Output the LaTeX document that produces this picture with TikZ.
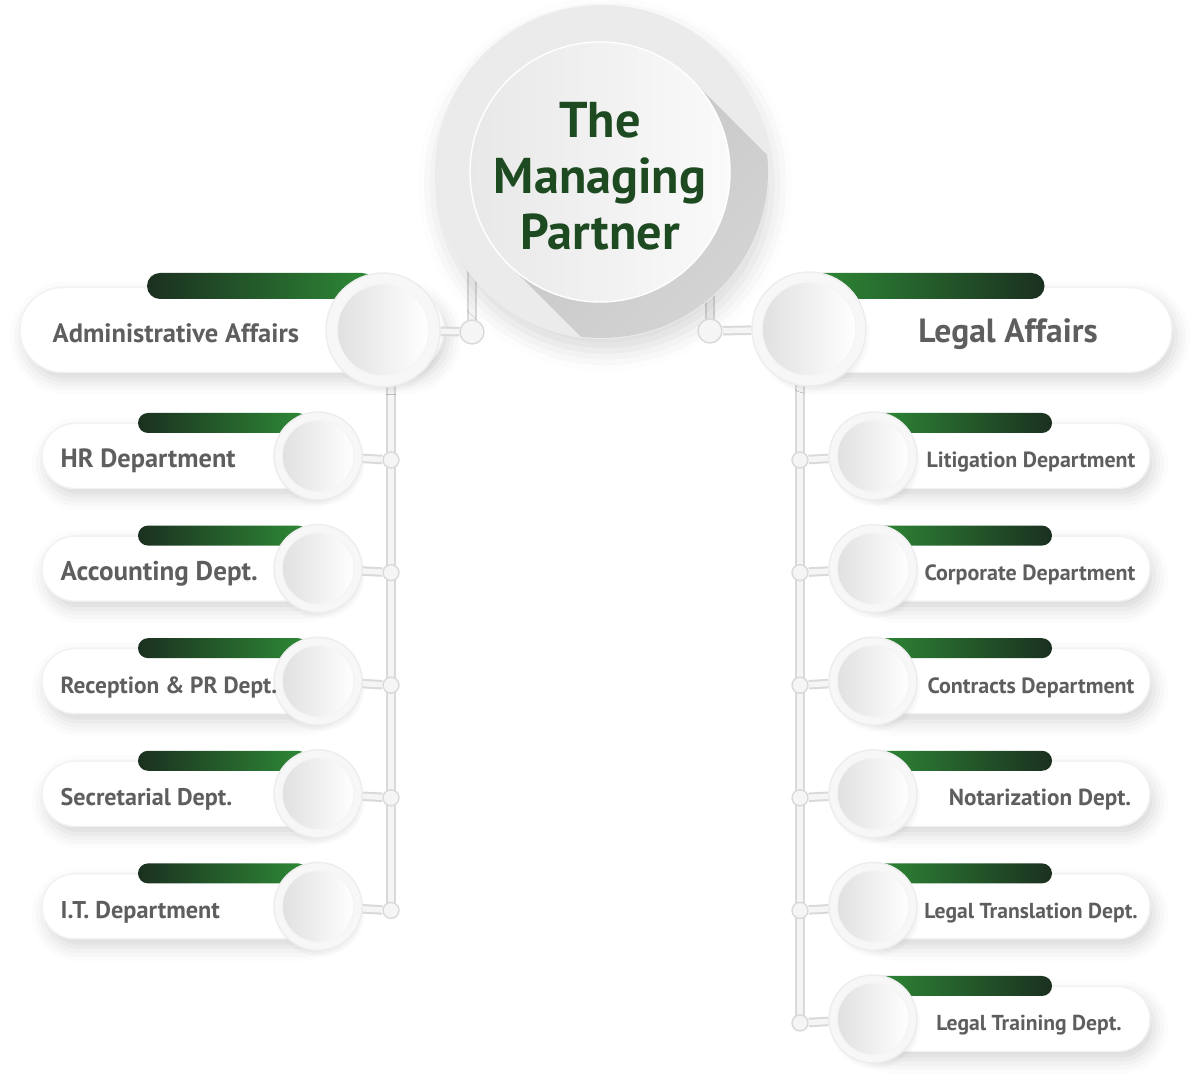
\documentclass[tikz,border=0pt]{standalone}
\usepackage{fontspec}
\setmainfont{PT Sans}
\usepackage{tikz}
\usetikzlibrary{shadows,shadows.blur}
\definecolor{deepgreen}{HTML}{1D4A20}
\definecolor{bardark}{HTML}{1B3020}
\definecolor{barlight}{HTML}{2E8A36}
\definecolor{labgray}{HTML}{5E5E5E}

\begin{document}
\begin{tikzpicture}[x=0.1mm,y=-0.1mm,
  softshadow/.style={blur shadow={shadow xshift=0.4mm,shadow yshift=-0.8mm,shadow blur radius=1.4mm,shadow opacity=16}},
  mainpill/.style={rectangle,fill=white,draw=black!5,minimum height=8.5mm,rounded corners=4.25mm,inner sep=0pt,softshadow},
  subpill/.style={rectangle,fill=white,draw=black!5,minimum height=6.5mm,rounded corners=3.25mm,inner sep=0pt,softshadow},
  gbar/.style={rectangle,minimum height=2mm,rounded corners=1mm,inner sep=0pt},
  ring/.style={circle,fill=black!3,draw=black!7,inner sep=0pt,
    circular drop shadow={shadow xshift=0.2mm,shadow yshift=-0.5mm,shadow scale=1.03,opacity=0.12}},
  core/.style={circle,inner sep=0pt,left color=black!12,right color=white,draw=black!4},
  dot/.style={circle,fill=black!4,draw=black!15,inner sep=0pt,minimum size=1.6mm},
  wire/.style={draw=black!15,double=black!4,double distance=0.55mm,line width=0.2mm},
  lab/.style={text=labgray,inner sep=0pt}]
\useasboundingbox (0,0) rectangle (1200,1077);

% bus lines
\coordinate (lbtop) at (391,370); \coordinate (lbend) at (391,911);
\coordinate (rbtop) at (800,370); \coordinate (rbend) at (800,1023);
\draw[wire] (lbtop) -- (lbend);
\draw[wire] (rbtop) -- (rbend);
\coordinate (amup) at (472,250); \coordinate (amjoin) at (472,332);
\coordinate (lgup) at (710,250); \coordinate (lgjoin) at (710,331);
\draw[wire] (amup) -- (amjoin);
\draw[wire] (lgup) -- (lgjoin);

% managing partner
\node[circle,fill=black!8,inner sep=0pt,minimum size=33.4mm,
  blur shadow={shadow xshift=0.3mm,shadow yshift=-1.2mm,shadow blur radius=2mm,shadow opacity=15}] (mpring) at (602,172) {};
\begin{scope}
  \clip (602,172) circle[radius=166];
  \shade[left color=black!22,right color=black!10,shading angle=45] (692,80) -- (508,264) -- (808,564) -- (992,380) -- cycle;
\end{scope}
\node[circle,inner sep=0pt,minimum size=26mm,left color=black!9,right color=black!2,draw=white] (mp) at (600,172) {};
\node[font=\bfseries\fontsize{14.3}{15.9}\selectfont,text=deepgreen,align=center] (mptext) at (600,176) {The\\Managing\\Partner};

% administrative affairs
\node[mainpill,minimum width=42.4mm] (ampill) at (232,330) {};
\node[gbar,minimum height=2.6mm,rounded corners=1.3mm,minimum width=22.8mm,left color=bardark,right color=barlight] (ambar) at (261,286) {};
\node[ring,minimum size=11.4mm] (amring) at (383,330) {};
\node[core,minimum size=9.2mm] (amcore) at (383,330) {};
\node[lab,font=\bfseries\fontsize{7.55}{9}\selectfont,anchor=base west] (amtext) at (52,343) {Administrative Affairs};
\node[dot,minimum size=2.4mm] (amdot) at (amjoin) {};
\draw[wire] (amring) -- (amdot);

% legal affairs
\node[mainpill,minimum width=40.2mm] (lgpill) at (971,330) {};
\node[gbar,minimum height=2.6mm,rounded corners=1.3mm,minimum width=23.5mm,left color=barlight,right color=bardark] (lgbar) at (927,286) {};
\node[ring,minimum size=11.4mm] (lgring) at (809,329) {};
\node[core,minimum size=9.4mm] (lgcore) at (809,329) {};
\node[lab,font=\bfseries\fontsize{9.55}{11}\selectfont,anchor=base] (lgtext) at (1008,343) {Legal Affairs};
\node[dot,minimum size=2.4mm] (lgdot) at (lgjoin) {};
\draw[wire] (lgdot) -- (lgring);

% left departments
\foreach \txt/\fs [count=\i] in {HR Department/7.5,Accounting Dept./7.7,Reception \& PR Dept./6.65,Secretarial Dept./6.85,I.T. Department/6.9}{
  \pgfmathsetmacro\yy{456+112.6*(\i-1)}
  \node[subpill,minimum width=28.8mm] (lp\i) at (186,\yy) {};
  \node[gbar,minimum width=17mm,left color=bardark,right color=barlight] (lb\i) at (223,\yy-33) {};
  \node[ring,minimum size=8.8mm] (lr\i) at (318,\yy) {};
  \node[core,minimum size=7.2mm] (lc\i) at (318,\yy) {};
  \node[lab,font=\bfseries\fontsize{\fs}{\fs}\selectfont,anchor=base west] (lt\i) at (60,\yy+12) {\txt};
  \node[dot] (ld\i) at (391,\yy+4) {};
  \draw[wire] (lr\i) -- (ld\i);
}

% right departments
\foreach \txt/\fs/\tx [count=\i] in {Litigation Department/6.24/1031,Corporate Department/6.27/1030,Contracts Department/6.27/1031,Notarization Dept./6.6/1040,Legal Translation Dept./6.15/1031,Legal Training Dept./6.15/1029}{
  \pgfmathsetmacro\yy{456+112.6*(\i-1)}
  \node[subpill,minimum width=29mm] (rp\i) at (1005,\yy) {};
  \node[gbar,minimum width=18.2mm,left color=barlight,right color=bardark] (rb\i) at (961,\yy-33) {};
  \node[ring,minimum size=8.8mm] (rr\i) at (873,\yy) {};
  \node[core,minimum size=7.2mm] (rc\i) at (873,\yy) {};
  \node[lab,font=\bfseries\fontsize{\fs}{\fs}\selectfont,anchor=base] (rt\i) at (\tx,\yy+12) {\txt};
  \node[dot] (rd\i) at (800,\yy+4) {};
  \draw[wire] (rd\i) -- (rr\i);
}
\end{tikzpicture}
\end{document}
